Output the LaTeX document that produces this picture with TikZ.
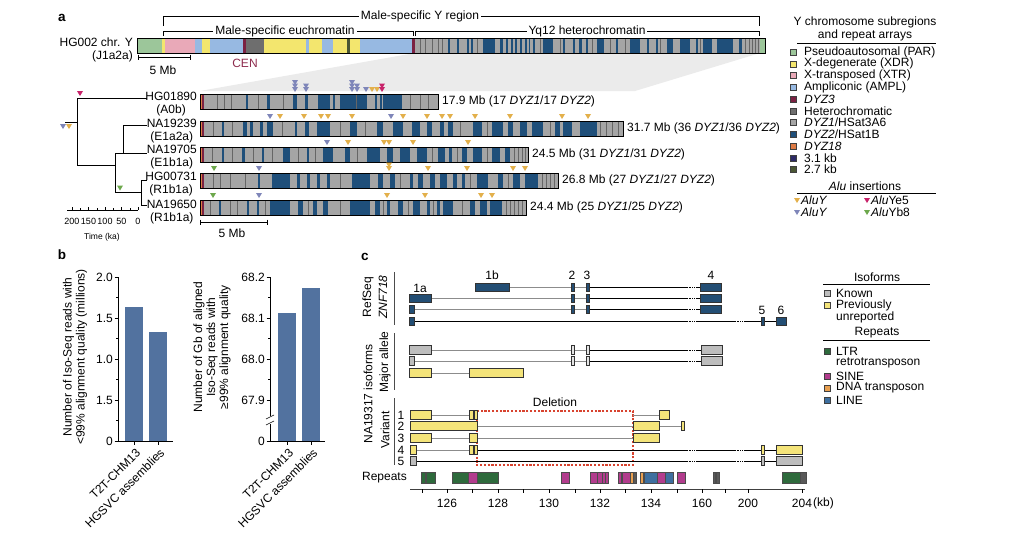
\documentclass[tikz,border=0pt]{standalone}
\usepackage{fontspec}
\setmainfont{Liberation Sans}
\definecolor{par}{HTML}{9CC69A}
\definecolor{xdr}{HTML}{F3E66E}
\definecolor{xtr}{HTML}{E9A9B8}
\definecolor{ampl}{HTML}{97B9E2}
\definecolor{dyzthree}{HTML}{7B2142}
\definecolor{het}{HTML}{6E6E6E}
\definecolor{dyzone}{HTML}{A5A5A5}
\definecolor{dyztwo}{HTML}{1F4F7A}
\definecolor{dyzeighteen}{HTML}{DE7B45}
\definecolor{kbthree}{HTML}{2D2A66}
\definecolor{kbtwo}{HTML}{4A5634}
\definecolor{aluyy}{HTML}{E3B04B}
\definecolor{aluyp}{HTML}{7F86B9}
\definecolor{aluye}{HTML}{C8236A}
\definecolor{aluyb}{HTML}{6DA84C}
\definecolor{barblue}{HTML}{52729F}
\definecolor{exonblue}{HTML}{234E74}
\definecolor{known}{HTML}{BDBDBD}
\definecolor{newiso}{HTML}{F4E47A}
\definecolor{ltr}{HTML}{2E6A3C}
\definecolor{sine}{HTML}{B23C8D}
\definecolor{dnat}{HTML}{E9A050}
\definecolor{linec}{HTML}{3E6F9F}
\definecolor{cenred}{HTML}{8E2C4E}
\definecolor{zoomgray}{HTML}{EBEBEB}
\definecolor{delred}{HTML}{D8432F}
\newcommand\sample[4]{%
  \fill[dyzone] (200,#1) rectangle (#2,#1+15);
  \foreach \a/\b in {#3} {\fill[dyztwo] (\a,#1) rectangle (\b,#1+15);}
  \foreach \x in {#4} {\draw[black!60,line width=0.4] (\x,#1) -- (\x,#1+15);}
  \fill[dyzeighteen] (200,#1) rectangle (201.5,#1+15);
  \fill[dyzthree] (201.5,#1) rectangle (203.5,#1+15);
  \draw[line width=0.6] (200,#1) rectangle (#2,#1+15);}
\newcommand\alu[3]{\fill[#1] (#2-3,#3-5) -- (#2+3,#3-5) -- (#2,#3) -- cycle;}
\newcommand\ex[4]{\draw[#1] (#2,#4-4.3) rectangle (#3,#4+4.3);}
\newcommand\intr[4]{\draw[#1] (#2,#4) -- (#3,#4);}
\newcommand\rep[3]{\draw[fill=#1,draw=black!70,line width=0.4] (#2,472) rectangle (#3,483);}
\begin{document}
\begin{tikzpicture}[x=1pt,y=-1pt,
  every node/.style={font=\fontsize{12}{13}\selectfont, inner sep=1pt},
  small/.style={font=\fontsize{9}{10}\selectfont},
  bold/.style={font=\fontsize{13.5}{14}\selectfont\bfseries},
  legsq/.style={draw=black!75,line width=0.5},
  axisline/.style={line width=0.6},
  intron/.style={draw=black!45,line width=0.7},
  intdark/.style={draw=black,line width=0.7},
  dotseg/.style={draw=black,line width=0.7,dash pattern=on 0.8pt off 0.9pt},
  exb/.style={fill=exonblue,draw=black!80,line width=0.4},
  exg/.style={fill=known,draw=black!80,line width=0.5},
  exw/.style={fill=black!10,draw=black!80,line width=0.5},
  exy/.style={fill=newiso,draw=black!80,line width=0.5},
  treeline/.style={line width=0.6}]
\useasboundingbox (0,0) rectangle (1010,533);
\fill[white] (0,0) rectangle (1010,533);

% ================= panel a =================
\node[bold] (la) at (62,18) {a};
\fill[zoomgray] (415,53) -- (760,53) -- (635,91) -- (200,91) -- cycle;

% brackets
\draw[line width=0.6] (163,26) -- (163,16) -- (759,16) -- (759,26);
\node[fill=white,inner sep=2pt] (msy) at (420,16) {Male-specific Y region};
\draw[line width=0.6] (163,36) -- (163,31) -- (413,31) -- (413,36);
\node[fill=white,inner sep=2pt] (mse) at (285,31) {Male-specific euchromatin};
\draw[line width=0.6] (415,36) -- (415,31) -- (759,31) -- (759,36);
\node[fill=white,inner sep=2pt] (yq) at (587,31) {Yq12 heterochromatin};

% main chromosome
\foreach \a/\b/\c in {137/162/par,162/165/xdr,165/195/xtr,195/202/ampl,202/210/xdr,210/243/ampl,243/246/dyzthree,246/264/het,264/306/xdr,306/309/ampl,309/322/xdr,322/333/ampl,333/347/xdr,347/350/kbtwo,350/360/xdr,360/412/ampl,412/415/dyzthree,415/760/dyzone,760/765/par}
  {\fill[\c] (\a,38) rectangle (\b,53);}
\foreach \a/\b in {448/450,457/458.5,467/468.5,471/473,483/495,500/503,506/507.5,511/512.5,515/517,520/522,525/527,528.5/530,533/535,543/553,563/565,573/574.5,579/582,586/588,597/604,616/618,630/640,647/648.5,656/658,667/673,680/690,696/698,703/712,717/733,739/742}
  {\fill[dyztwo] (\a,38) rectangle (\b,53);}
\foreach \x in {420,425,432,438,442,477,540,560,592,610,625,660,700,745,749,752,755,758}
  {\draw[black!60,line width=0.4] (\x,38) -- (\x,53);}
\draw[line width=0.6] (137,38) rectangle (765,53);
\node[anchor=east,align=right] (hg002) at (134,49.5) {HG002 chr. Y\\(J1a2a)};
\node[text=cenred] (cen) at (245,63) {CEN};
\draw[line width=0.6] (138,57) -- (190,57);
\draw[line width=0.6] (138,54.5) -- (138,59.5) (190,54.5) -- (190,59.5);
\node (mb5a) at (163,70) {5 Mb};

% sample chromosomes
\sample{94}{438}{246/248,267/270,293/297,305/308,318/330,333/335,340/367,375/377,380/381.5,383/402}{217,224,231,258,283,356,410,420,428}
\sample{121}{623}{222/224,243/247,250/253,260/263,267/273,295/297,305/309,317/330,350/357,377/383,393/403,412/420,427/432,440/444,448/453,473/482,492/503,508/513,520/527,532/543,555/560,563/572,580/597}{213,232,282,340,365,460,487,550,600,606,612,618}
\sample{147}{528}{222/224,242/245,262/264,283/290,307/309,323/333,345/350,367/380,387/393,400/410,417/427,438/445,449/452,462/467,473/482,492/500,505/510}{212,232,253,272,298,315,357,432,457,487,514,518,522,525}
\sample{173}{558}{258/260,272/290,297/300,307/310,317/320,327/330,352/370,378/383,390/395,410/413,418/423,430/435,440/447,453/457,462/465,477/488,498/503,513/520,525/538}{213,220,230,245,340,400,470,508,542,546,550,554}
\sample{200}{526}{219/220.5,247/248.5,257/258.5,270/290,298/303,313/317,323/328,350/370,375/380,387/390,398/403,413/420,427/430,437/440,443/453,470/475,480/487,490/502}{210,230,237,265,308,340,383,408,433,462,506,510,514,518,522}

\node[anchor=west] (s1) at (441,101.5) {17.9 Mb (17 \textit{DYZ1}/17 \textit{DYZ2})};
\node[anchor=west] (s2) at (626,128.5) {31.7 Mb (36 \textit{DYZ1}/36 \textit{DYZ2})};
\node[anchor=west] (s3) at (531,154.5) {24.5 Mb (31 \textit{DYZ1}/31 \textit{DYZ2})};
\node[anchor=west] (s4) at (561,180.5) {26.8 Mb (27 \textit{DYZ1}/27 \textit{DYZ2})};
\node[anchor=west] (s5) at (529,207.5) {24.4 Mb (25 \textit{DYZ1}/25 \textit{DYZ2})};

\node[anchor=east,align=center] (n1) at (198,104) {HG01890\\(A0b)};
\node[anchor=east,align=center] (n2) at (198,131) {NA19239\\(E1a2a)};
\node[anchor=east,align=center] (n3) at (198,157) {NA19705\\(E1b1a)};
\node[anchor=east,align=center] (n4) at (198,184) {HG00731\\(R1b1a)};
\node[anchor=east,align=center] (n5) at (198,212) {NA19650\\(R1b1a)};

% Alu triangles on samples
\foreach \y in {92,88.5,85} {\alu{aluyp}{295}{\y}}
\foreach \y in {92,88.5} {\alu{aluyp}{306}{\y}}
\foreach \y in {92,88.5,85} {\alu{aluyp}{352}{\y}}
\foreach \y in {92,88.5} {\alu{aluyp}{357}{\y}}
\alu{aluyp}{366}{92}
\alu{aluyy}{372}{92}
\alu{aluyy}{377}{92}
\foreach \y in {92,88.5} {\alu{aluye}{382}{\y}}
\alu{aluyp}{270}{119}
\foreach \x in {280,304,321,328,352,403,427,442,450,475,510,562,588} {\alu{aluyy}{\x}{119}}
\alu{aluyp}{391}{119}
\alu{aluyp}{327}{145}
\foreach \x in {348,384,389,413,468} {\alu{aluyy}{\x}{145}}
\alu{aluyb}{214}{171}
\alu{aluyp}{259}{171}
\foreach \x in {389,428,467,513,525} {\alu{aluyy}{\x}{171}}
\alu{aluyy}{389}{167.5}
\alu{aluyb}{213}{198}
\alu{aluyp}{259}{198}
\foreach \x in {387,425,481,492} {\alu{aluyy}{\x}{198}}

% tree
\coordinate (t0) at (77,98);
\coordinate (t1) at (77,165);
\coordinate (t2) at (115,165);
\draw[treeline] (147,98) -- (t0) -- (t1) -- (t2);
\draw[treeline] (65,122) -- (77,122);
\draw[treeline] (115,153) -- (115,192);
\draw[treeline] (115,153) -- (123,153);
\draw[treeline] (147,125) -- (123,125) -- (123,153) -- (147,153);
\draw[treeline] (115,192) -- (141,192);
\draw[treeline] (147,180) -- (141,180) -- (141,205) -- (147,205);
\alu{aluye}{80}{96}
\alu{aluyb}{120}{190.5}
\alu{aluyp}{63}{129}
\alu{aluyy}{69}{129}

% time axis
\draw[line width=0.6] (67,210) -- (138,210);
\foreach \k in {0,50,100,150,200} {\draw[line width=0.6] (138-0.33*\k,210) -- (138-0.33*\k,206.5);}
\foreach \k in {25,75,125,175} {\draw[line width=0.5] (138-0.33*\k,210) -- (138-0.33*\k,208);}
\foreach \k in {0,50,100,150,200} {\node[small,name=tk\k] at (138-0.33*\k,221) {\k};}
\node[font=\fontsize{8.5}{9}\selectfont] (timelab) at (102,237) {Time (ka)};
\draw[line width=0.6] (200,222) -- (267,222);
\draw[line width=0.6] (200,219.5) -- (200,224.5) (267,219.5) -- (267,224.5);
\node (mb5b) at (232,233) {5 Mb};

% legend a
\node[align=center] (lega) at (865,29) {Y chromosome subregions\\and repeat arrays};
\draw[line width=0.7] (797,43) -- (936,43);
\foreach \c/\t [count=\i from 0] in {par/{Pseudoautosomal (PAR)},xdr/{X-degenerate (XDR)},xtr/{X-transposed (XTR)},ampl/{Ampliconic (AMPL)},dyzthree/{\textit{DYZ3}},het/{Heterochromatic},dyzone/{\textit{DYZ1}/HSat3A6},dyztwo/{\textit{DYZ2}/HSat1B},dyzeighteen/{\textit{DYZ18}},kbthree/{3.1 kb},kbtwo/{2.7 kb}}
 {\draw[legsq,fill=\c] (790,52+11.75*\i-3) rectangle (796,52+11.75*\i+3);
  \node[anchor=west,name=lgt\i] at (803,52+11.75*\i) {\t};}
\node (aluhead) at (865,186) {\textit{Alu} insertions};
\draw[line width=0.7] (797,193) -- (936,193);
\alu{aluyy}{797}{203}
\node[anchor=west] (la1) at (800,200.5) {\textit{AluY}};
\alu{aluye}{867}{203}
\node[anchor=west] (la2) at (870,200.5) {\textit{Alu}Ye5};
\alu{aluyp}{797}{215}
\node[anchor=west] (la3) at (800,212.5) {\textit{AluY}};
\alu{aluyb}{867}{215}
\node[anchor=west] (la4) at (870,212.5) {\textit{Alu}Yb8};

% ================= panel b =================
\node[bold] (lb) at (62,255) {b};
% plot 1
\fill[barblue] (125,441) rectangle (143,307);
\fill[barblue] (149,441) rectangle (167,332);
\draw[axisline] (118,277) -- (118,441) -- (173,441);
\foreach \y/\t in {277/2.0,318/1.5,359/1.0,400/1.5,441/0}
 {\draw[axisline] (114.5,\y) -- (118,\y); \node[anchor=east,name=pa\y] at (114,\y) {\t};}
\foreach \y in {297.5,338.5,379.5,420.5} {\draw[axisline] (116,\y) -- (118,\y);}
\draw[axisline] (134,441) -- (134,444.5) (158,441) -- (158,444.5);
\node[rotate=45,anchor=east] (bx1) at (139,450) {T2T-CHM13};
\node[rotate=45,anchor=east] (bx2) at (163,450) {HGSVC assemblies};
\node[rotate=90,align=center] (by1) at (75,357) {Number of Iso-Seq reads with\\<99\% alignment quality (millions)};
% plot 2
\fill[barblue] (278,441) rectangle (296,313);
\fill[barblue] (302,441) rectangle (320,288);
\draw[axisline] (270,277) -- (270,416);
\draw[axisline] (270,424) -- (270,441) -- (325,441);
\draw[axisline] (266,419) -- (274,415);
\draw[axisline] (266,425) -- (274,421);
\foreach \y/\t in {277/68.2,318/68.1,359/68.0,400/67.9,441/0}
 {\draw[axisline] (266.5,\y) -- (270,\y); \node[anchor=east,name=pc\y] at (266,\y) {\t};}
\foreach \y in {297.5,338.5,379.5} {\draw[axisline] (268,\y) -- (270,\y);}
\draw[axisline] (287,441) -- (287,444.5) (311,441) -- (311,444.5);
\node[rotate=45,anchor=east] (bx3) at (292,450) {T2T-CHM13};
\node[rotate=45,anchor=east] (bx4) at (316,450) {HGSVC assemblies};
\node[rotate=90,align=center] (by2) at (212,347) {Number of Gb of aligned\\Iso-Seq reads with\\≥99\% alignment quality};

% ================= panel c =================
\node[bold] (lc) at (365,257) {c};
\draw[line width=1,black!70] (394,272) -- (394,325);
\draw[line width=1,black!70] (394,333) -- (394,390);
\draw[line width=1,black!70] (394,398) -- (394,465);
\node[rotate=90] (refseq) at (368,297) {RefSeq};
\node[rotate=90] (znf) at (383,297) {\textit{ZNF718}};
\node[rotate=90] (major) at (385,362) {Major allele};
\node[rotate=90] (isof) at (368,394) {NA19317 isoforms};
\node[rotate=90] (variant) at (385,430) {Variant};
\node (e1a) at (420,288) {1a};
\node (e1b) at (492,275) {1b};
\node (e2) at (572,275) {2};
\node (e3) at (587,275) {3};
\node (e4) at (711,275) {4};
\node (e5) at (762,310) {5};
\node (e6) at (781,310) {6};

% RefSeq rows
\intr{intron}{509}{571}{287} \intr{intron}{574}{586}{287} \intr{intdark}{589}{687}{287} \intr{dotseg}{687}{698}{287} \intr{intdark}{698}{700}{287}
\ex{exb}{475}{509}{287} \ex{exb}{571}{574}{287} \ex{exb}{586}{589}{287} \ex{exb}{700}{721}{287}
\foreach \y/\e in {298/431,309/414} {
 \intr{intron}{\e}{571}{\y} \intr{intron}{574}{586}{\y} \intr{intdark}{589}{687}{\y} \intr{dotseg}{687}{698}{\y} \intr{intdark}{698}{700}{\y}
 \ex{exb}{409}{\e}{\y} \ex{exb}{571}{574}{\y} \ex{exb}{586}{589}{\y} \ex{exb}{700}{721}{\y}}
\intr{intdark}{414}{687}{321} \intr{dotseg}{687}{698}{321} \intr{intdark}{698}{735}{321} \intr{dotseg}{735}{745}{321} \intr{intdark}{745}{776}{321}
\ex{exb}{409}{414}{321} \ex{exb}{761}{764}{321} \ex{exb}{776}{786}{321}

% Major allele rows
\foreach \y/\e in {350/431,361/414} {
 \intr{intron}{\e}{571}{\y} \intr{intron}{574}{586}{\y} \intr{intdark}{589}{687}{\y} \intr{dotseg}{687}{698}{\y} \intr{intdark}{698}{701}{\y}
 \ex{exg}{409}{\e}{\y} \ex{exw}{571}{574}{\y} \ex{exw}{586}{589}{\y} \ex{exg}{701}{722}{\y}}
\intr{intron}{431}{469}{373}
\ex{exy}{409}{431}{373} \ex{exy}{469}{523}{373}

% Variant rows
\draw[draw=delred,line width=1.1,dash pattern=on 2.2pt off 1.6pt] (477,411) rectangle (633,465);
\node (del) at (555,402) {Deletion};
\foreach \i/\y in {1/415,2/426,3/438,4/450,5/461} {\node[name=vr\i] at (401,\y) {\i};}
% row 1
\intr{intron}{431}{469}{415} \intr{intron}{633}{659}{415}
\ex{exy}{410}{431}{415} \ex{exy}{469}{473}{415} \ex{exy}{474}{477}{415} \ex{exy}{659}{669}{415}
% row 2
\intr{intron}{477}{633}{426} \intr{intron}{659}{681}{426}
\ex{exy}{410}{477}{426} \ex{exy}{633}{659}{426} \ex{exy}{681}{684}{426}
% row 3
\intr{intron}{431}{469}{438} \intr{intron}{477}{633}{438}
\ex{exy}{410}{431}{438} \ex{exy}{469}{477}{438} \ex{exy}{633}{659}{438}
% row 4
\intr{intron}{416}{469}{450} \intr{intdark}{477}{687}{450} \intr{dotseg}{687}{698}{450} \intr{intdark}{698}{735}{450} \intr{dotseg}{735}{745}{450} \intr{intdark}{745}{776}{450}
\ex{exy}{410}{416}{450} \ex{exy}{469}{473}{450} \ex{exy}{474}{477}{450} \ex{exy}{761}{764}{450} \ex{exy}{776}{802}{450}
% row 5
\intr{intdark}{416}{687}{461} \intr{dotseg}{687}{698}{461} \intr{intdark}{698}{735}{461} \intr{dotseg}{735}{745}{461} \intr{intdark}{745}{776}{461}
\ex{exg}{410}{416}{461} \ex{exg}{761}{764}{461} \ex{exg}{776}{802}{461}

% Repeats
\node[anchor=east] (replab) at (408,478) {Repeats};
\rep{ltr}{421}{425} \rep{ltr}{426}{435}
\rep{ltr}{452}{498} \rep{sine}{468}{477}
\rep{sine}{561}{569}
\rep{sine}{590}{597} \rep{sine}{597.5}{602} \rep{sine}{602.5}{605} \rep{sine}{605.5}{608}
\rep{sine}{618}{621} \rep{sine}{622}{630} \rep{dnat}{630}{633} \rep{black!65}{633}{636}
\rep{dnat}{640}{643} \rep{linec}{644}{657} \rep{sine}{657}{665} \rep{linec}{665}{673}
\rep{sine}{677}{685}
\rep{black!65}{713}{715.5} \rep{black!65}{716.5}{719}
\rep{ltr}{782}{800} \rep{black!65}{800}{806}

% kb axis
\draw[line width=0.8,black!75] (410,489) -- (805,489);
\foreach \x in {422,447,472,498,523,549,575,600,625,651,677,702,725,748,802} {\draw[line width=0.6] (\x,489) -- (\x,492.5);}
\foreach \x/\t in {447/126,498/128,549/130,600/132,651/134,702/160,748/200,802/204} {\node[name=kb\t] at (\x,503) {\t};}
\node[anchor=west] (kbunit) at (812,503) {(kb)};

% legend c
\node (isoh) at (877,277) {Isoforms};
\draw[line width=0.7] (823,284) -- (930,284);
\draw[legsq,fill=known] (824,290) rectangle (830,296);
\node[anchor=west] (lk) at (835,293) {Known};
\draw[legsq,fill=newiso] (824,302) rectangle (830,308);
\node[anchor=west] (lp) at (835,305) {Previously};
\node[anchor=west] (lu) at (835,317) {unreported};
\node (reph) at (877,333) {Repeats};
\draw[line width=0.7] (823,340) -- (930,340);
\draw[legsq,fill=ltr] (824,348) rectangle (830,354);
\node[anchor=west] (lltr) at (835,351) {LTR};
\node[anchor=west] (lretro) at (835,363) {retrotransposon};
\draw[legsq,fill=sine] (824,373) rectangle (830,379);
\node[anchor=west] (lsine) at (835,376) {SINE};
\draw[legsq,fill=dnat] (824,385) rectangle (830,391);
\node[anchor=west] (ldna) at (835,388) {DNA transposon};
\draw[legsq,fill=linec] (824,397) rectangle (830,403);
\node[anchor=west] (lline) at (835,400) {LINE};
\end{tikzpicture}
\end{document}
